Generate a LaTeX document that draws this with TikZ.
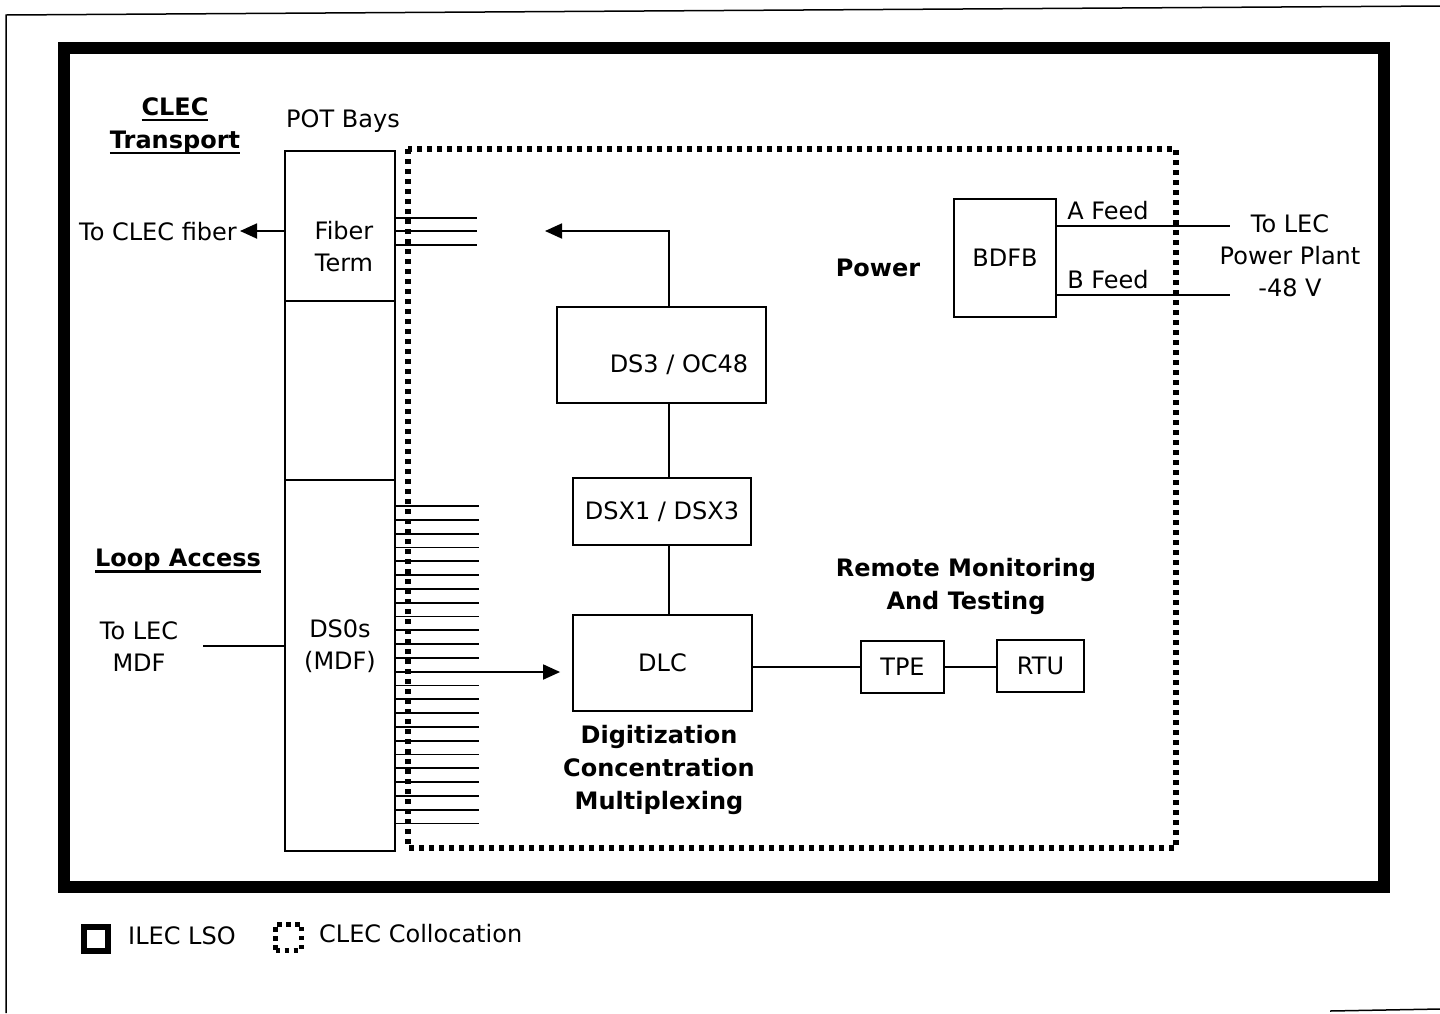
\documentclass[tikz,border=0pt]{standalone}
\usepackage{fontspec}
\setmainfont{DejaVu Sans}
\usetikzlibrary{arrows.meta}
\newcommand{\thickul}[1]{\setbox0\hbox{#1}\rlap{\rule[-6pt]{\wd0}{2.6pt}}\box0}
\begin{document}
\begin{tikzpicture}[x=1pt,y=-1pt,
  txt/.style={font=\fontsize{24}{32}\selectfont, align=center, inner sep=0pt},
  btxt/.style={font=\fontsize{24}{33}\selectfont\bfseries, align=center, inner sep=0pt},
  box/.style={draw, line width=1.8pt, inner sep=0pt, font=\fontsize{24}{32}\selectfont},
  ln/.style={line width=1.8pt},
  arr/.style={line width=1.8pt, -{Triangle[length=17pt,width=15pt]}},
  dots/.style={line width=5.5pt, dash pattern=on 5pt off 5pt},
]
\useasboundingbox (0,0) rectangle (1440,1013);
% scan frame
\draw[line width=1.5pt] (1440,6) -- (6,15) -- (6,1013);
\draw[line width=1.5pt] (1330,1011) -- (1440,1009);
% ILEC LSO frame
\draw[line width=12pt] (64,48) rectangle (1384,887);
% CLEC collocation
\draw[dots] (408,149) rectangle (1176,848);

% POT bays column
\node[box, minimum width=110pt, minimum height=150pt] (fiberbox) at (340,226) {};
\node[box, minimum width=110pt, minimum height=179pt] (midbox) at (340,390.5) {};
\node[box, minimum width=110pt, minimum height=371pt] (ds0box) at (340,665.5) {};
\node[txt] (fibertxt) at (344,247) {Fiber\\Term};
\node[txt] (ds0txt) at (340,646) {DS0s\\(MDF)};
\node[txt] (potbays) at (343,121) {POT Bays};

% headings
\node[btxt] (clectr) at (175,126) {\thickul{CLEC}\\\thickul{Transport}};
\node[btxt] (loopacc) at (178,561) {\thickul{Loop Access}};
\node[txt] (tolecmdf) at (139,647) {To LEC\\MDF};
\node[txt, anchor=east] (toclecfiber) at (237,232) {To CLEC fiber};

% fiber stubs
\foreach \y in {218,231,245} \draw[ln] (fiberbox.east |- 0,\y) -- (477,\y);
% DS0 stubs
\foreach \i in {0,...,23} {
  \pgfmathsetmacro{\yy}{506+13.8*\i}
  \draw[ln] (ds0box.east |- 0,\yy) -- (479,\yy);
}

% to CLEC fiber arrow
\coordinate (clecfib) at (240,231);
\draw[arr] (fiberbox.west |- clecfib) -- (clecfib);
% MDF line
\coordinate (mdfend) at (203,646);
\draw[ln] (mdfend) -- (ds0box.west |- mdfend);

% central chain
\coordinate (cx) at (669,0);
\node[box, minimum width=209pt, minimum height=96pt] (ds3) at (661.5,355) {};
\node[txt] (ds3txt) at (679,365) {DS3 / OC48};
\node[box, minimum width=178pt, minimum height=67pt] (dsx) at (662,511.5) {DSX1 / DSX3};
\node[box, minimum width=179pt, minimum height=96pt] (dlc) at (662.5,663) {DLC};
\node[btxt] (dcm) at (659,770) {Digitization\\Concentration\\Multiplexing};

\coordinate (fibtip) at (545,231);
\draw[arr] (ds3.north -| cx) |- (fibtip);
\draw[ln] (ds3.south -| cx) -- (dsx.north -| cx);
\draw[ln] (dsx.south -| cx) -- (dlc.north -| cx);
\coordinate (ds0out) at (395,672);
\draw[arr, shorten >=12pt] (ds0out) -- (dlc.west |- ds0out);

% remote monitoring
\node[btxt] (rmt) at (966,586) {Remote Monitoring\\And Testing};
\node[box, minimum width=83pt, minimum height=52pt] (tpe) at (902.5,667) {TPE};
\node[box, minimum width=87pt, minimum height=52pt] (rtu) at (1040.5,666) {RTU};
\draw[ln] (dlc.east |- tpe) -- (tpe.west);
\draw[ln] (tpe.east) -- (rtu.west |- tpe.east);

% power
\node[btxt] (power) at (878,268) {Power};
\node[box, minimum width=102pt, minimum height=118pt] (bdfb) at (1005,258) {BDFB};
\node[txt] (afeedtxt) at (1108,211) {A Feed};
\node[txt] (bfeedtxt) at (1108,280) {B Feed};
\coordinate (afeed) at (1230,226);
\coordinate (bfeed) at (1230,295);
\draw[ln] (bdfb.east |- afeed) -- (afeed);
\draw[ln] (bdfb.east |- bfeed) -- (bfeed);
\node[txt] (tolecpp) at (1290,256) {To LEC\\Power Plant\\-48 V};

% legend
\node[draw, line width=6pt, minimum size=24pt, inner sep=0pt] (lsoicon) at (96,938.5) {};
\node[txt, anchor=west] (lsotxt) at (128,936) {ILEC LSO};
\node[draw, line width=5pt, dash pattern=on 4.5pt off 4.5pt, minimum size=26pt, inner sep=0pt] (colicon) at (288.5,937) {};
\node[txt, anchor=west] (coltxt) at (319,934) {CLEC Collocation};
\end{tikzpicture}
\end{document}
